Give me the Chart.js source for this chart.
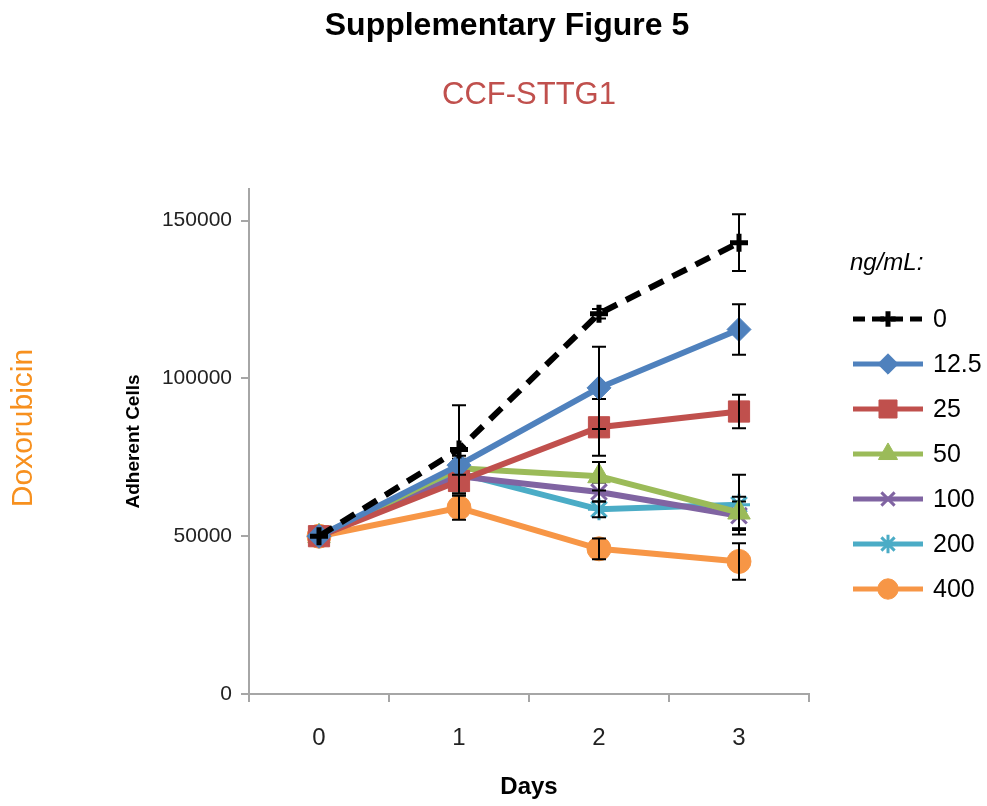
<!DOCTYPE html>
<html><head><meta charset="utf-8">
<script src="https://cdn.jsdelivr.net/npm/chart.js@4/dist/chart.umd.min.js"></script>
<style>html,body{margin:0;padding:0;background:#fff}#wrap{position:relative;width:987px;height:806px}</style>
</head><body><div id="wrap"><canvas id="c" width="987" height="806"></canvas></div>
<script>
const days = ['0', '1', '2', '3'];
const concLabels = ['0', '12.5', '25', '50', '100', '200', '400'];
const yTickValues = [0, 50000, 100000, 150000];

const conc0 = [50000, 77500, 120500, 143000];
const conc12_5 = [50000, 72500, 97000, 115500];
const conc25 = [50000, 67500, 84500, 89500];
const conc50 = [50000, 71500, 69000, 57500];
const conc100 = [50000, 69000, 64000, 56500];
const conc200 = [50000, 70000, 58500, 60000];
const conc400 = [50000, 59000, 46000, 42000];

const err0 = [0, 14000, 1500, 9000];
const err12_5 = [0, 3000, 13000, 8000];
const err25 = [0, 4000, 9000, 5300];
const err50 = [0, 3000, 4500, 5000];
const err100 = [0, 2500, 3000, 4500];
const err200 = [0, 2500, 2500, 9500];
const err400 = [0, 3800, 3300, 5800];

const seriesValues = [conc0, conc12_5, conc25, conc50, conc100, conc200, conc400];
const seriesErrors = [err0, err12_5, err25, err50, err100, err200, err400];
const colors = ['#000000', '#4f81bd', '#c0504d', '#9bbb59', '#8064a2', '#4bacc6', '#f79646'];
const styles = [
  {pointStyle: 'cross', radius: 9, bw: 5},
  {pointStyle: 'rectRot', radius: 12, bw: 1},
  {pointStyle: 'rect', radius: 15, bw: 1},
  {pointStyle: 'triangle', radius: 13, bw: 1},
  {pointStyle: 'crossRot', radius: 11, bw: 3},
  {pointStyle: 'star', radius: 11, bw: 3},
  {pointStyle: 'circle', radius: 12, bw: 1}
];
const FONT = "'Liberation Sans', Arial, Helvetica, sans-serif";
Chart.defaults.font.family = FONT;

const datasets = seriesValues.map((vals, i) => ({
  label: concLabels[i],
  data: vals,
  borderColor: colors[i],
  backgroundColor: colors[i],
  borderWidth: 6,
  borderDash: i === 0 ? [16, 10] : [],
  pointStyle: styles[i].pointStyle,
  pointRadius: styles[i].radius,
  pointBorderWidth: styles[i].bw,
  pointBackgroundColor: colors[i],
  pointBorderColor: colors[i],
  tension: 0,
  fill: false
}));

const errorBars = {
  id: 'errorBars',
  afterDatasetDraw(chart, args) {
    const i = args.index;
    const ctx = chart.ctx;
    const ys = chart.scales.y;
    ctx.save();
    ctx.strokeStyle = '#000';
    ctx.lineWidth = 2;
    args.meta.data.forEach((pt, j) => {
      const e = seriesErrors[i][j];
      if (!e) return;
      const v = seriesValues[i][j];
      const y1 = ys.getPixelForValue(v + e), y2 = ys.getPixelForValue(v - e);
      const x = pt.x;
      ctx.beginPath();
      ctx.moveTo(x, y1); ctx.lineTo(x, y2);
      ctx.moveTo(x - 7, y1); ctx.lineTo(x + 7, y1);
      ctx.moveTo(x - 7, y2); ctx.lineTo(x + 7, y2);
      ctx.stroke();
    });
    ctx.restore();
  }
};

const extras = {
  id: 'extras',
  afterDraw(chart) {
    const ctx = chart.ctx;
    ctx.save();
    ctx.textBaseline = 'middle';
    ctx.textAlign = 'center';
    ctx.fillStyle = '#000';
    ctx.font = "bold 32px " + FONT;
    ctx.fillText('Supplementary Figure 5', 507, 26);
    ctx.fillStyle = '#c0504d';
    ctx.font = "31px " + FONT;
    ctx.fillText('CCF-STTG1', 529, 95);
    ctx.save();
    ctx.translate(24, 428);
    ctx.rotate(-Math.PI / 2);
    ctx.fillStyle = '#f7901e';
    ctx.font = "30px " + FONT;
    ctx.fillText('Doxorubicin', 0, 0);
    ctx.restore();
    // legend
    ctx.textAlign = 'left';
    ctx.fillStyle = '#000';
    ctx.font = "italic 24px " + FONT;
    ctx.fillText('ng/mL:', 850, 263);
    const x0 = 853, x1 = 923, xm = 888;
    datasets.forEach((ds, i) => {
      const y = 319 + i * 45;
      ctx.save();
      ctx.strokeStyle = ds.borderColor;
      ctx.lineWidth = 5;
      ctx.setLineDash(i === 0 ? [12, 7] : []);
      ctx.beginPath(); ctx.moveTo(x0, y); ctx.lineTo(x1, y); ctx.stroke();
      ctx.setLineDash([]);
      ctx.fillStyle = ds.pointBackgroundColor;
      ctx.strokeStyle = ds.pointBorderColor;
      ctx.lineWidth = ds.pointBorderWidth;
      Chart.helpers.drawPoint(ctx, {pointStyle: ds.pointStyle, radius: ds.pointRadius * 0.85, rotation: 0, borderWidth: ds.pointBorderWidth}, xm, y);
      ctx.restore();
      ctx.fillStyle = '#000';
      ctx.font = "25px " + FONT;
      ctx.fillText(ds.label, 933, y + 1);
    });
    ctx.restore();
  }
};

new Chart(document.getElementById('c'), {
  type: 'line',
  data: {labels: days, datasets},
  options: {
    responsive: false,
    animation: false,
    layout: {padding: {left: 110, right: 178, top: 189, bottom: 0}},
    plugins: {legend: {display: false}, tooltip: {enabled: false}, title: {display: false}},
    scales: {
      x: {
        type: 'category',
        offset: true,
        grid: {display: true, offset: true, drawOnChartArea: false, drawTicks: true, tickLength: 8, color: '#a6a6a6', lineWidth: 2},
        border: {display: true, color: '#a6a6a6', width: 2},
        ticks: {font: {size: 24}, color: '#222', padding: 22},
        title: {display: true, text: 'Days', font: {size: 24, weight: 'bold'}, color: '#000', padding: {top: 0, bottom: 4}},
        afterFit(s) { s.height = 112; }
      },
      y: {
        min: 0, max: 160000,
        afterBuildTicks(s) { s.ticks = yTickValues.map(v => ({value: v})); },
        grid: {display: true, drawOnChartArea: false, drawTicks: true, tickLength: 8, color: '#a6a6a6', lineWidth: 2},
        border: {display: true, color: '#a6a6a6', width: 2},
        ticks: {font: {size: 21}, color: '#222', padding: 9, callback: (v) => String(v)},
        title: {display: true, text: 'Adherent Cells', font: {size: 19, weight: 'bold'}, color: '#000', padding: {top: 12, bottom: 0}},
        afterFit(s) { s.width = 139; }
      }
    }
  },
  plugins: [errorBars, extras]
});
</script>
</body></html>
